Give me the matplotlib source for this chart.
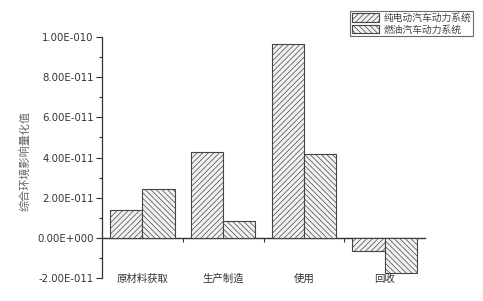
import matplotlib
matplotlib.use("Agg")
import matplotlib.pyplot as plt
import numpy as np

plt.rcParams['font.family'] = ['Noto Sans CJK SC', 'DejaVu Sans']
plt.rcParams['hatch.linewidth'] = 0.5
plt.rcParams['hatch.color'] = '#777777'

categories = ['原材料获取', '生产制造', '使用', '回收']
series_names = ['纯电动汽车动力系统', '燃油汽车动力系统']
electric = [1.40e-11, 4.27e-11, 9.63e-11, -0.67e-11]
fuel = [2.44e-11, 0.84e-11, 4.15e-11, -1.76e-11]
ytick_vals = [-2e-11, 0, 2e-11, 4e-11, 6e-11, 8e-11, 1e-10]
ytick_labels = ['-2.00E-011', '0.00E+000', '2.00E-011', '4.00E-011',
                '6.00E-011', '8.00E-011', '1.00E-010']
ylabel = '综合环境影响量化值'

W, H = 483, 301
fig = plt.figure(figsize=(W / 100, H / 100), dpi=100)
ax = fig.add_axes([102 / W, 1 - 278 / H, (425 - 102) / W, (278 - 37) / H])

x = np.arange(len(categories))
bw = 0.4
edge = '#444444'
fill = '#f2f2f2'
b1 = ax.bar(x - bw / 2, electric, bw, color=fill, edgecolor=edge, linewidth=0.8,
            hatch='//////', label=series_names[0])
b2 = ax.bar(x + bw / 2, fuel, bw, color=fill, edgecolor=edge, linewidth=0.8,
            hatch='\\\\\\\\\\\\', label=series_names[1])

ax.set_xlim(-0.5, 3.5)
ax.set_ylim(-2e-11, 1e-10)

for s in ['top', 'right']:
    ax.spines[s].set_visible(False)
ax.spines['bottom'].set_visible(False)
ax.spines['left'].set_color('#333333')
ax.spines['left'].set_linewidth(0.9)

ax.set_yticks(ytick_vals)
ax.set_yticklabels(ytick_labels, fontsize=7.3, color='#333333', family='DejaVu Sans')
ax.set_yticks(np.arange(-1e-11, 1e-10, 2e-11), minor=True)
ax.tick_params(axis='y', which='major', direction='out', length=4, width=0.8, color='#333333', pad=2)
ax.tick_params(axis='y', which='minor', direction='out', length=2.5, width=0.8, color='#333333')

ax.set_xticks(x)
ax.set_xticklabels(categories, fontsize=7.5, color='#333333')
ax.tick_params(axis='x', which='major', length=0, pad=-3)

# zero axis line with ticks at group boundaries
sec = ax.secondary_xaxis(0, transform=ax.transData)
sec.spines['bottom'].set_color('#333333')
sec.spines['bottom'].set_linewidth(1.0)
sec.set_xticks([0.5, 1.5, 2.5])
sec.set_xticklabels([])
sec.tick_params(axis='x', direction='out', length=3, width=0.8, color='#333333')

fig.text(25 / W, 1 - 161 / H, ylabel, rotation=90, ha='center', va='center',
         fontsize=8, color='#666666')

leg = fig.legend(handles=[b1, b2], loc='upper right', bbox_to_anchor=(473 / W, 1 - 11 / H),
                 fontsize=7, frameon=True, fancybox=False, handlelength=2.8,
                 handleheight=1.0, borderpad=0.2, labelspacing=0.15, handletextpad=0.4,
                 borderaxespad=0)
leg.get_frame().set_edgecolor('#444444')
leg.get_frame().set_linewidth(0.8)
for t in leg.get_texts():
    t.set_color('#444444')

fig.savefig('out.png', dpi=100)
